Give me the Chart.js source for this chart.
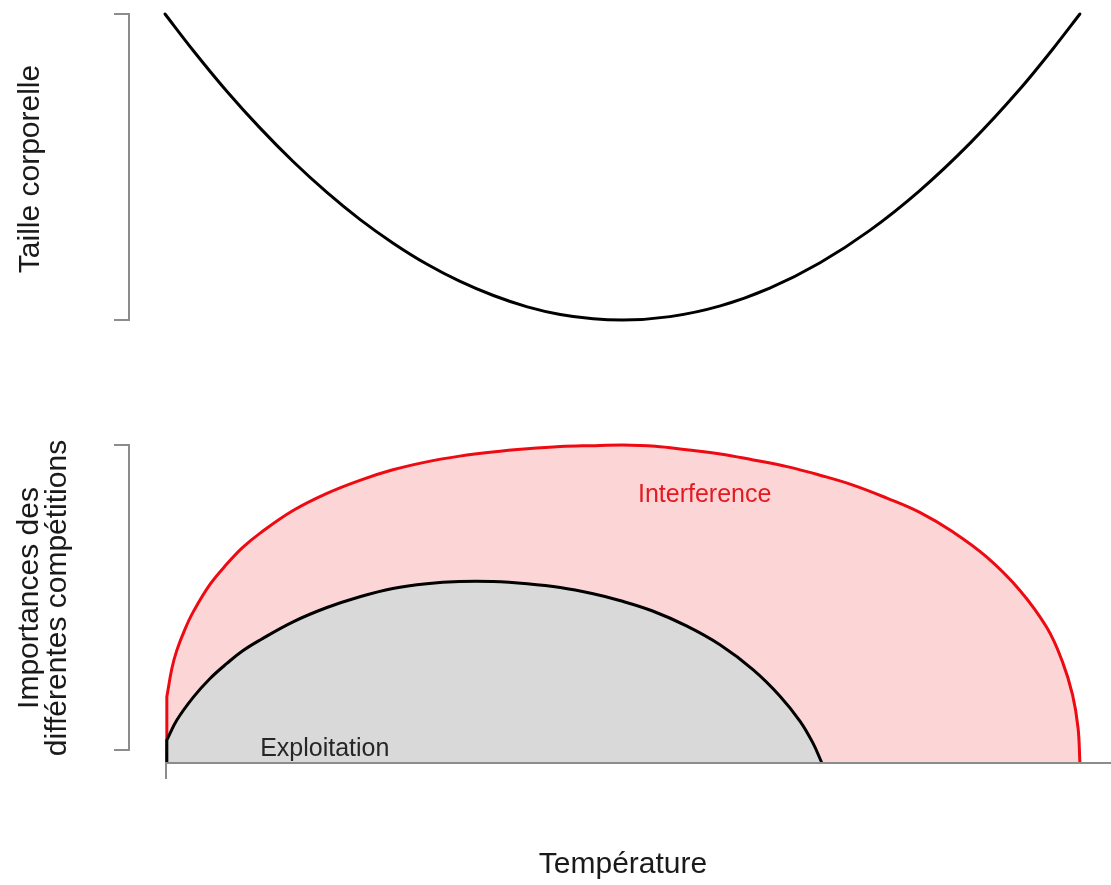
<!DOCTYPE html>
<html lang="fr">
<head>
<meta charset="utf-8">
<title>Taille corporelle et compétition selon la température</title>
<script src="https://cdn.jsdelivr.net/npm/chart.js@4/dist/chart.umd.min.js"></script>
<style>
  html, body { margin: 0; padding: 0; background: #fff; }
  #wrap { position: relative; width: 1111px; height: 885px; overflow: hidden; }
  canvas { position: absolute; left: 0; }
  #topChart { top: 0; }
  #bottomChart { top: 340px; }
</style>
</head>
<body>
<div id="wrap">
  <canvas id="topChart" width="1111" height="340"></canvas>
  <canvas id="bottomChart" width="1111" height="545"></canvas>
</div>
<script>
// Taille corporelle (relative) en fonction de la température
const tempTaille = [0, 3.1, 6.8, 10.4, 14.0, 17.7, 21.3, 24.9, 28.6, 32.2, 35.9, 39.6, 43.2, 46.8, 50,
    55.2, 60.7, 66.1, 71.6, 77.0, 82.5, 88.0, 93.4, 97.0, 100];
const tailleCorporelle = [100, 88.0, 74.6, 62.7, 51.8, 41.7, 32.9, 25.2, 18.3, 12.7, 8.0, 4.3, 1.8, 0.4, 0,
    1.1, 4.6, 10.4, 18.7, 29.2, 42.3, 57.8, 75.3, 88.4, 100];

// Compétition par interférence (le point répété marque l'angle du départ vertical)
const tempInterference = [0.2, 0.2, 0.2, 0.75, 1.3, 2.2, 3.1, 4.9, 6.8, 8.5, 10.4, 14.0, 17.7, 21.3, 24.9,
    28.6, 32.2, 35.8, 39.6, 43.2, 46.6, 50, 53.6, 57.0, 60.7, 64.3, 68.0, 71.6, 75.2, 78.9, 82.5, 86.1,
    89.8, 93.4, 96.4, 98.1, 99.2, 99.8, 100];
const interference = [0, 20.8, 20.8, 29.7, 35.5, 42.2, 47.6, 56.1, 62.7, 67.8, 72.3, 79.4, 84.8, 88.9, 92.2,
    94.7, 96.5, 97.8, 98.8, 99.5, 99.8, 100, 99.6, 98.5, 97.2, 95.3, 93.2, 90.5, 87.4, 83.3, 78.8, 72.7,
    64.8, 54.4, 42.5, 31.8, 21.4, 11.0, 0];

// Compétition par exploitation
const tempExploitation = [0.2, 0.2, 0.2, 1.3, 3.1, 4.9, 6.8, 8.5, 10.4, 14.0, 17.7, 21.3, 24.9, 28.6, 32.2,
    35.8, 39.6, 43.2, 46.8, 49.7, 53.3, 57.0, 60.7, 64.3, 67.2, 69.4, 70.8, 71.8];
const exploitation = [0, 7.2, 7.2, 13.5, 20.7, 26.5, 31.4, 35.3, 38.7, 44.4, 48.9, 52.3, 54.9, 56.4, 57.1,
    57.1, 56.4, 55.2, 53.2, 51.1, 47.8, 43.1, 37.1, 29.3, 21.1, 13.2, 6.4, 0];

// Extrémités des axes verticaux (sans étiquettes)
const tailleTicks = [0, 100];
const importanceTicks = [4.1, 100];
const tempTicks = [0];

const FONT = '"Liberation Sans", Arial, Helvetica, sans-serif';
const AXIS_GREY = '#8c8c8c';
const X_MAX = 103.4;

function toPoints(xs, ys) {
    return xs.map((x, i) => ({ x: x, y: ys[i] }));
}

// Axe vertical en crochet, décalé à gauche de la zone de tracé
function drawBracket(ctx, chart, ticks) {
    const y = chart.scales.y;
    const x = chart.chartArea.left - 36;
    const y0 = y.getPixelForValue(ticks[0]);
    const y1 = y.getPixelForValue(ticks[ticks.length - 1]);
    ctx.save();
    ctx.strokeStyle = AXIS_GREY;
    ctx.lineWidth = 2;
    ctx.beginPath();
    ctx.moveTo(x, y0);
    ctx.lineTo(x, y1);
    ticks.forEach(t => {
        const py = y.getPixelForValue(t);
        ctx.moveTo(x + 1, py);
        ctx.lineTo(x - 15, py);
    });
    ctx.stroke();
    ctx.restore();
}

function drawVerticalTitle(ctx, lines, cx, cy, lineGap) {
    ctx.save();
    ctx.translate(cx, cy);
    ctx.rotate(-Math.PI / 2);
    ctx.fillStyle = '#1a1a1a';
    ctx.font = '30px ' + FONT;
    ctx.textAlign = 'center';
    ctx.textBaseline = 'middle';
    const offset = (lines.length - 1) * lineGap / 2;
    lines.forEach((line, i) => {
        ctx.fillText(line, 0, -offset + i * lineGap);
    });
    ctx.restore();
}

const baseOptions = (padTop, padBottom) => ({
    responsive: false,
    animation: false,
    devicePixelRatio: 1,
    layout: { padding: { left: 165, right: 0, top: padTop, bottom: padBottom } },
    plugins: { legend: { display: false }, tooltip: { enabled: false } },
    elements: { point: { radius: 0, hoverRadius: 0 } },
    scales: {
        x: { type: 'linear', min: 0, max: X_MAX, display: false },
        y: { type: 'linear', min: 0, max: 100, display: false }
    }
});

const topDecor = {
    id: 'topDecor',
    afterDraw(chart) {
        const ctx = chart.ctx;
        drawBracket(ctx, chart, tailleTicks);
        drawVerticalTitle(ctx, ['Taille corporelle'], 31, 169, 0);
    }
};

const bottomDecor = {
    id: 'bottomDecor',
    afterDraw(chart) {
        const ctx = chart.ctx;
        const xs = chart.scales.x;
        const ys = chart.scales.y;
        const area = chart.chartArea;

        drawBracket(ctx, chart, importanceTicks);

        // axe des températures
        const yAxis = ys.getPixelForValue(0);
        ctx.save();
        ctx.strokeStyle = AXIS_GREY;
        ctx.lineWidth = 2;
        ctx.beginPath();
        ctx.moveTo(area.left, yAxis);
        ctx.lineTo(area.right, yAxis);
        tempTicks.forEach(t => {
            const px = xs.getPixelForValue(t) + 1;
            ctx.moveTo(px, yAxis);
            ctx.lineTo(px, yAxis + 16);
        });
        ctx.stroke();
        ctx.restore();

        // étiquettes des courbes
        ctx.save();
        ctx.font = '25px ' + FONT;
        ctx.textAlign = 'left';
        ctx.textBaseline = 'middle';
        ctx.fillStyle = '#e31a22';
        ctx.fillText('Interference', xs.getPixelForValue(51.7), ys.getPixelForValue(84.3));
        ctx.fillStyle = '#262626';
        ctx.fillText('Exploitation', xs.getPixelForValue(10.4), ys.getPixelForValue(4.3));
        ctx.restore();

        drawVerticalTitle(ctx, ['Importances des', 'différentes compétitions'], 44, 258, 28);

        ctx.save();
        ctx.font = '30px ' + FONT;
        ctx.fillStyle = '#1a1a1a';
        ctx.textAlign = 'center';
        ctx.textBaseline = 'middle';
        ctx.fillText('Température', 623, 525);
        ctx.restore();
    }
};

new Chart(document.getElementById('topChart'), {
    type: 'line',
    data: {
        datasets: [{
            label: 'Taille corporelle',
            data: toPoints(tempTaille, tailleCorporelle),
            borderColor: '#000',
            borderWidth: 3,
            borderCapStyle: 'round',
            cubicInterpolationMode: 'monotone',
            fill: false,
            clip: false
        }]
    },
    options: baseOptions(14, 20),
    plugins: [topDecor]
});

new Chart(document.getElementById('bottomChart'), {
    type: 'line',
    data: {
        datasets: [{
            label: 'Exploitation',
            data: toPoints(tempExploitation, exploitation),
            borderColor: '#000',
            borderWidth: 3,
            backgroundColor: '#d9d9d9',
            fill: 'origin',
            tension: 0.4,
            clip: false
        }, {
            label: 'Interference',
            data: toPoints(tempInterference, interference),
            borderColor: '#ee0a12',
            borderWidth: 3,
            backgroundColor: '#fcd6d6',
            fill: 'origin',
            tension: 0.4,
            clip: false
        }]
    },
    options: baseOptions(105, 122),
    plugins: [bottomDecor]
});
</script>
</body>
</html>
